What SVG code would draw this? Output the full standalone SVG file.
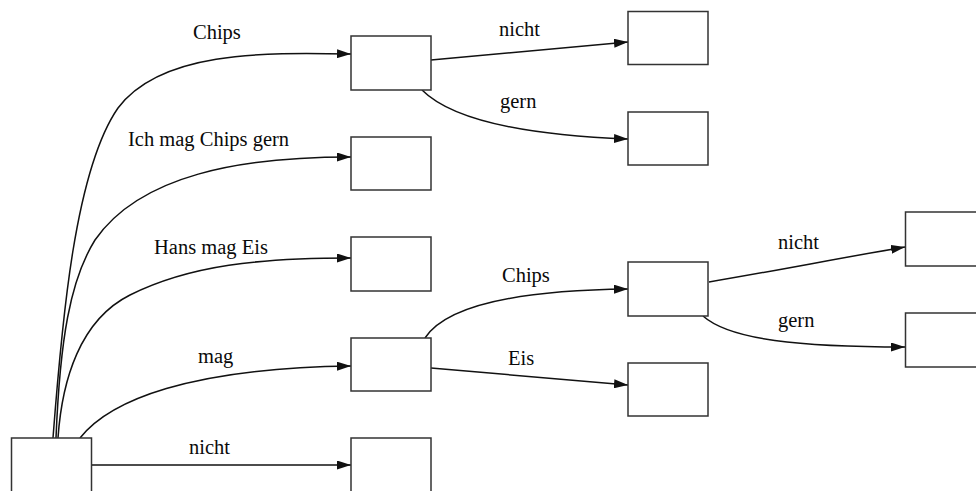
<svg xmlns="http://www.w3.org/2000/svg" width="976" height="491" viewBox="0 0 976 491">
  <style>
    .node { fill: #ffffff; stroke: #333333; stroke-width: 1.5; }
    .edge { fill: none; stroke: #111111; stroke-width: 1.5; marker-end: url(#arrow); }
    .label { font-family: "Liberation Serif", "Times New Roman", serif; font-size: 20.5px; fill: #0a0a0a; }
  </style>
  <defs>
    <marker id="arrow" markerWidth="14" markerHeight="9" refX="14" refY="4.5" orient="auto" markerUnits="userSpaceOnUse">
      <path d="M0,0 L14,4.5 L0,9 Z" fill="#111111"/>
    </marker>
  </defs>
  <rect width="976" height="491" fill="#ffffff"/>

  <!-- connectors -->
  <g id="edges">
    <path class="edge" d="M53,438 C62,320 75,170 118,108 C160,52 260,52 351,54"/>
    <path class="edge" d="M56,438 C60,340 70,280 95,240 C140,175 240,157 351,157"/>
    <path class="edge" d="M58,438 C62,380 80,320 130,295 C190,265 260,258 351,258"/>
    <path class="edge" d="M80,438 C110,400 190,368 351,366"/>
    <path class="edge" d="M91,465 L351,465"/>
    <path class="edge" d="M431,60 L628,42"/>
    <path class="edge" d="M422,90 C450,118 520,135 628,139"/>
    <path class="edge" d="M425,338 C450,300 540,290 628,289"/>
    <path class="edge" d="M431,368 L628,385"/>
    <path class="edge" d="M709,282 C780,270 840,258 905,247"/>
    <path class="edge" d="M703,316 C730,340 800,347 905,347"/>
  </g>

  <!-- edge labels -->
  <g id="labels">
    <text class="label" x="193" y="39">Chips</text>
    <text class="label" x="128" y="146">Ich mag Chips gern</text>
    <text class="label" x="154" y="254">Hans mag Eis</text>
    <text class="label" x="198" y="363">mag</text>
    <text class="label" x="189" y="454">nicht</text>
    <text class="label" x="499" y="36">nicht</text>
    <text class="label" x="500" y="108">gern</text>
    <text class="label" x="502" y="282">Chips</text>
    <text class="label" x="508" y="365">Eis</text>
    <text class="label" x="778" y="249">nicht</text>
    <text class="label" x="778" y="327">gern</text>
  </g>

  <!-- nodes -->
  <g id="root"><rect class="node" x="11.5" y="438" width="80" height="60"/></g>
  <g id="n_chips"><rect class="node" x="351" y="36" width="80" height="54"/></g>
  <g id="n_ich"><rect class="node" x="351" y="137" width="80" height="53"/></g>
  <g id="n_hans"><rect class="node" x="351" y="237" width="80" height="54"/></g>
  <g id="n_mag"><rect class="node" x="351" y="338" width="80" height="53"/></g>
  <g id="n_nicht"><rect class="node" x="351" y="438" width="80" height="60"/></g>
  <g id="n_chips_nicht"><rect class="node" x="628" y="11.5" width="80" height="53"/></g>
  <g id="n_chips_gern"><rect class="node" x="628" y="112" width="80" height="53"/></g>
  <g id="n_mag_chips"><rect class="node" x="628" y="262" width="80" height="54"/></g>
  <g id="n_mag_eis"><rect class="node" x="628" y="363" width="80" height="53"/></g>
  <g id="n_mag_chips_nicht"><rect class="node" x="905.5" y="212" width="80" height="54"/></g>
  <g id="n_mag_chips_gern"><rect class="node" x="905.5" y="313" width="80" height="54"/></g>
</svg>
